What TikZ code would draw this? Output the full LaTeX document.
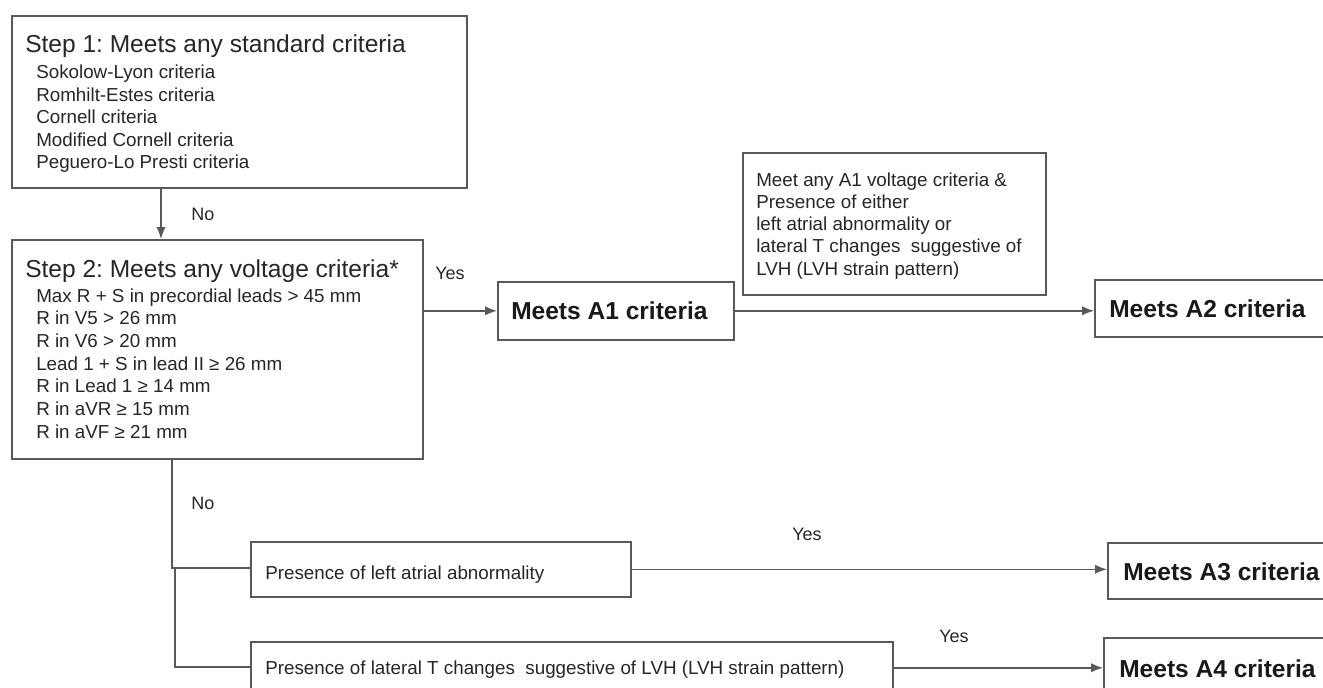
\documentclass[tikz,border=0pt]{standalone}
\usepackage{fontspec}
\setmainfont{Liberation Sans}
\usetikzlibrary{arrows.meta}
\frenchspacing
\tikzset{
 box/.style={draw=black!65, line width=1.2pt, rectangle, inner sep=0pt, anchor=north west, fill=white},
 ttl/.style={font=\fontsize{18.4}{22}\selectfont, text=black!85, anchor=base west, inner sep=0pt},
 sub/.style={font=\fontsize{14.1}{17}\selectfont, text=black!85, anchor=base west, inner sep=0pt},
 res/.style={font=\fontsize{18.4}{22}\selectfont\bfseries, text=black!90, anchor=base west, inner sep=0pt},
 lbl/.style={font=\fontsize{13.5}{16}\selectfont, text=black!85, inner sep=0pt},
 conn/.style={draw=black!65, line width=1.1pt},
 arr/.style={conn, -{Latex[length=9pt,width=7pt]}},
}
\begin{document}
\begin{tikzpicture}[x=0.75pt,y=-0.75pt]
\useasboundingbox (0,0) rectangle (1323,688);
\clip (0,0) rectangle (1323,688);
\fill[white] (0,0) rectangle (1323,688);
% boxes
\node[box, minimum width=341.25pt, minimum height=129pt] (s1) at (11,15) {};
\node[box, minimum width=308.25pt, minimum height=164.25pt] (s2) at (11,239) {};
\node[box, minimum width=227.25pt, minimum height=106.5pt] (note) at (742,152) {};
\node[box, minimum width=177pt, minimum height=43.5pt] (a1) at (497,281) {};
\node[box, minimum width=195pt, minimum height=42.75pt] (a2) at (1094,279) {};
\node[box, minimum width=285pt, minimum height=41.25pt] (laa) at (250,541) {};
\node[box, minimum width=187.5pt, minimum height=42pt] (a3) at (1107,542) {};
\node[box, minimum width=481.5pt, minimum height=39pt] (lt) at (250,641) {};
\node[box, minimum width=187.5pt, minimum height=46.5pt] (a4) at (1103,637) {};
% texts
\node[ttl] (s1t) at (25,53) {Step 1: Meets any standard criteria};
\foreach \t [count=\i] in {{Sokolow-Lyon criteria},{Romhilt-Estes criteria},{Cornell criteria},{Modified Cornell criteria},{Peguero-Lo Presti criteria}}
  \node[sub] (s1l\i) at (36,{79+22.5*(\i-1)}) {\t};
\node[ttl] (s2t) at (25,277) {Step 2: Meets any voltage criteria*};
\foreach \t [count=\i] in {{Max R + S in precordial leads > 45 mm},{R in V5 > 26 mm},{R in V6 > 20 mm},{Lead 1 + S in lead II ≥ 26 mm},{R in Lead 1 ≥ 14 mm},{R in aVR ≥ 15 mm},{R in aVF ≥ 21 mm}}
  \node[sub] (s2l\i) at (36,{302+22.7*(\i-1)}) {\t};
\foreach \t [count=\i] in {{Meet any A1 voltage criteria \&},{Presence of either},{left atrial abnormality or},{lateral T changes\ \ suggestive of},{LVH (LVH strain pattern)}}
  \node[sub] (nl\i) at (756,{186+22.3*(\i-1)}) {\t};
\node[res] (a1t) at (511,319) {Meets A1 criteria};
\node[res] (a2t) at (1109,317) {Meets A2 criteria};
\node[res] (a3t) at (1123,580) {Meets A3 criteria};
\node[res] (a4t) at (1119,677) {Meets A4 criteria};
\node[sub] (laat) at (265,579) {Presence of left atrial abnormality};
\node[sub] (ltt) at (265,674) {Presence of lateral T changes\ \ suggestive of LVH (LVH strain pattern)};
% connectors
\coordinate (c1) at (161,0);
\draw[arr] (s1.south -| c1) -- (s2.north -| c1);
\draw[arr] (s2.east |- a1.west) -- (a1.west);
\draw[arr] (a1.east) -- (a1.east -| a2.west);
\coordinate (b1) at (172,568);
\coordinate (b2t) at (175,568);
\coordinate (b2) at (175,667);
\draw[conn] (s2.south -| b1) -- (b1) -- (b1 -| laa.west);
\draw[conn] (b2t) -- (b2) -- (b2 -| lt.west);
\draw[arr] (laa.east) -- (laa.east -| a3.west);
\draw[arr] (lt.east) -- (lt.east -| a4.west);
% labels
\node[lbl] (no1) at (203,214) {No};
\node[lbl] (yes1) at (450,273) {Yes};
\node[lbl] (no2) at (203,503) {No};
\node[lbl] (yes2) at (807,534) {Yes};
\node[lbl] (yes3) at (954,636) {Yes};
\end{tikzpicture}
\end{document}
